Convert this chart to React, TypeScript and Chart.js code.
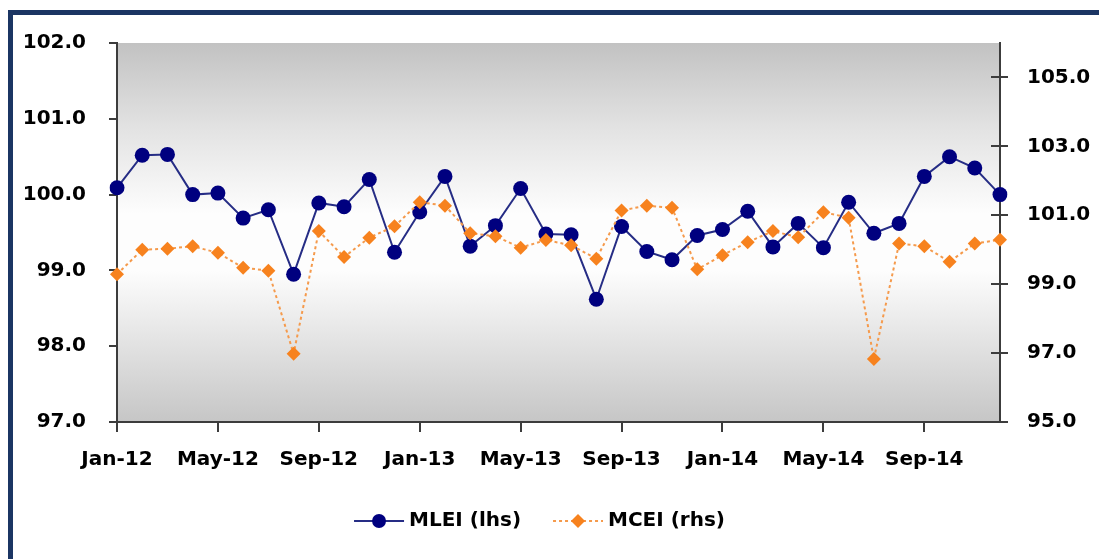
import React, { useEffect, useRef } from 'react';
import { Chart, registerables } from 'chart.js';

Chart.register(...registerables);

const months = [
  'Jan-12', 'Feb-12', 'Mar-12', 'Apr-12', 'May-12', 'Jun-12', 'Jul-12', 'Aug-12', 'Sep-12', 'Oct-12', 'Nov-12', 'Dec-12',
  'Jan-13', 'Feb-13', 'Mar-13', 'Apr-13', 'May-13', 'Jun-13', 'Jul-13', 'Aug-13', 'Sep-13', 'Oct-13', 'Nov-13', 'Dec-13',
  'Jan-14', 'Feb-14', 'Mar-14', 'Apr-14', 'May-14', 'Jun-14', 'Jul-14', 'Aug-14', 'Sep-14', 'Oct-14', 'Nov-14', 'Dec-14',
];

const mlei = [
  100.09, 100.52, 100.53, 100.0, 100.02, 99.69, 99.8, 98.95, 99.89, 99.84, 100.2, 99.24,
  99.77, 100.24, 99.32, 99.59, 100.08, 99.48, 99.47, 98.62, 99.58, 99.25, 99.14, 99.46,
  99.54, 99.78, 99.31, 99.62, 99.3, 99.9, 99.49, 99.62, 100.24, 100.5, 100.35, 100.0,
];

const mcei = [
  99.29, 100.0, 100.03, 100.1, 99.91, 99.48, 99.39, 96.98, 100.54, 99.79, 100.35, 100.68,
  101.38, 101.28, 100.48, 100.39, 100.06, 100.28, 100.13, 99.74, 101.14, 101.28, 101.22, 99.43,
  99.84, 100.22, 100.54, 100.36, 101.09, 100.93, 96.83, 100.18, 100.1, 99.65, 100.18, 100.29,
];

const leftTicks = [97, 98, 99, 100, 101, 102];
const rightTicks = [95, 97, 99, 101, 103, 105];
const seriesNames = ['MLEI (lhs)', 'MCEI (rhs)'];

const FONT = { family: "'DejaVu Sans', sans-serif", weight: 'bold' as const, size: 20 };
const AXIS = '#3c3c3c';
const NAVY = '#00007f';
const NAVY_LINE = '#262d85';
const ORANGE = '#f7821e';
const ORANGE_LINE = '#f59a4c';

const bgPlugin = {
  id: 'plotBg',
  beforeDraw(chart: any) {
    const { ctx, chartArea: a } = chart;
    const g = ctx.createLinearGradient(0, a.top, 0, a.bottom);
    g.addColorStop(0, '#c2c2c2');
    g.addColorStop(0.22, '#e2e2e2');
    g.addColorStop(0.45, '#fdfdfd');
    g.addColorStop(0.6, '#fdfdfd');
    g.addColorStop(1, '#c6c6c6');
    ctx.save();
    ctx.fillStyle = g;
    ctx.fillRect(a.left, a.top, a.right - a.left, a.bottom - a.top);
    ctx.restore();
  },
};

const crossTicks = {
  id: 'crossTicks',
  afterDraw(chart: any) {
    const { ctx, chartArea: a } = chart;
    const s = chart.scales.y1;
    ctx.save();
    ctx.strokeStyle = AXIS;
    ctx.lineWidth = 2;
    s.ticks.forEach((t: any) => {
      const y = Math.round(s.getPixelForValue(t.value));
      ctx.beginPath();
      ctx.moveTo(a.right - 9, y);
      ctx.lineTo(a.right, y);
      ctx.stroke();
    });
    ctx.restore();
  },
};

const legendPlugin = {
  id: 'customLegend',
  afterDraw(chart: any) {
    const ctx = chart.ctx;
    ctx.save();
    ctx.font = `bold ${FONT.size}px ${FONT.family}`;
    ctx.textBaseline = 'middle';
    ctx.fillStyle = '#000';
    const lineLen = 50;
    const gap = 5;
    const spacing = 32;
    const widths = seriesNames.map((n) => ctx.measureText(n).width);
    const total = widths.reduce((s, w) => s + lineLen + gap + w, 0) + spacing * (seriesNames.length - 1);
    let x = chart.width / 2 - 10 - total / 2;
    const y = 521;
    seriesNames.forEach((name, i) => {
      const ds = chart.data.datasets.find((d: any) => d.label === name);
      ctx.save();
      ctx.strokeStyle = ds.borderColor;
      ctx.lineWidth = ds.borderWidth;
      ctx.setLineDash(ds.borderDash || []);
      ctx.beginPath();
      ctx.moveTo(x, y);
      ctx.lineTo(x + lineLen, y);
      ctx.stroke();
      ctx.setLineDash([]);
      ctx.fillStyle = ds.pointBackgroundColor;
      const cx = x + lineLen / 2;
      ctx.beginPath();
      if (ds.pointStyle === 'circle') {
        ctx.arc(cx, y, 7, 0, Math.PI * 2);
      } else {
        const r = 7;
        ctx.moveTo(cx, y - r);
        ctx.lineTo(cx + r, y);
        ctx.lineTo(cx, y + r);
        ctx.lineTo(cx - r, y);
        ctx.closePath();
      }
      ctx.fill();
      ctx.restore();
      ctx.fillText(name, x + lineLen + gap, y);
      x += lineLen + gap + widths[i] + spacing;
    });
    ctx.restore();
  },
};

export default function App() {
  const ref = useRef<HTMLCanvasElement>(null);

  useEffect(() => {
    if (!ref.current) return;
    const chart = new Chart(ref.current, {
      type: 'line',
      data: {
        labels: months,
        datasets: [
          {
            label: seriesNames[0],
            data: mlei,
            yAxisID: 'y',
            borderColor: NAVY_LINE,
            borderWidth: 2,
            pointStyle: 'circle',
            pointRadius: 7.5,
            pointBackgroundColor: NAVY,
            pointBorderWidth: 0,
            pointBorderColor: NAVY,
            tension: 0,
            order: 1,
          } as any,
          {
            label: seriesNames[1],
            data: mcei,
            yAxisID: 'y1',
            borderColor: ORANGE_LINE,
            borderWidth: 2,
            borderDash: [3, 3],
            pointStyle: 'rectRot',
            pointRadius: 7,
            pointBackgroundColor: ORANGE,
            pointBorderWidth: 0,
            pointBorderColor: ORANGE,
            tension: 0,
            order: 0,
          } as any,
        ],
      },
      options: {
        animation: false,
        responsive: false,
        maintainAspectRatio: false,
        layout: { padding: { top: 43, left: 0, right: 0, bottom: 0 } },
        plugins: {
          legend: { display: false },
          tooltip: { enabled: false },
          title: { display: false },
        },
        scales: {
          x: {
            type: 'category',
            offset: false,
            afterFit: (s: any) => { s.height = 137; },
            border: { display: true, color: AXIS, width: 2 },
            grid: {
              drawOnChartArea: false,
              drawTicks: true,
              tickLength: 10,
              lineWidth: 2,
              color: (c: any) => (c.index % 4 === 0 ? AXIS : 'rgba(0,0,0,0)'),
            },
            ticks: {
              autoSkip: false,
              maxRotation: 0,
              padding: 16,
              color: '#000',
              font: FONT,
              callback: (_v: any, i: number) => (i % 4 === 0 ? months[i] : ''),
            },
          },
          y: {
            type: 'linear',
            position: 'left',
            min: leftTicks[0],
            max: leftTicks[leftTicks.length - 1],
            afterFit: (s: any) => { s.width = 117; },
            afterBuildTicks: (s: any) => { s.ticks = leftTicks.map((v) => ({ value: v })); },
            border: { display: true, color: AXIS, width: 2 },
            grid: { drawOnChartArea: false, drawTicks: true, tickLength: 8, lineWidth: 2, color: AXIS },
            ticks: {
              padding: 23,
              color: '#000',
              font: FONT,
              callback: (v: any) => Number(v).toFixed(1),
            },
          },
          y1: {
            type: 'linear',
            position: 'right',
            min: 95,
            max: 106,
            afterFit: (s: any) => { s.width = 99; },
            afterBuildTicks: (s: any) => { s.ticks = rightTicks.map((v) => ({ value: v })); },
            border: { display: true, color: AXIS, width: 2 },
            grid: { drawOnChartArea: false, drawTicks: true, tickLength: 8, lineWidth: 2, color: AXIS },
            ticks: {
              padding: 19,
              color: '#000',
              font: FONT,
              callback: (v: any) => Number(v).toFixed(1),
            },
          },
        },
      },
      plugins: [bgPlugin, crossTicks, legendPlugin],
    });
    return () => chart.destroy();
  }, []);

  return (
    <div style={{ position: 'absolute', left: 0, top: 0, width: 1099, height: 559, background: '#fff', overflow: 'hidden' }}>
      <div
        style={{
          position: 'absolute',
          left: 8,
          top: 10,
          width: 1300,
          height: 800,
          borderTop: '5px solid #1b3563',
          borderLeft: '5px solid #1b3563',
        }}
      />
      <canvas ref={ref} width={1099} height={559} style={{ position: 'absolute', left: 0, top: 0, width: 1099, height: 559 }} />
    </div>
  );
}
